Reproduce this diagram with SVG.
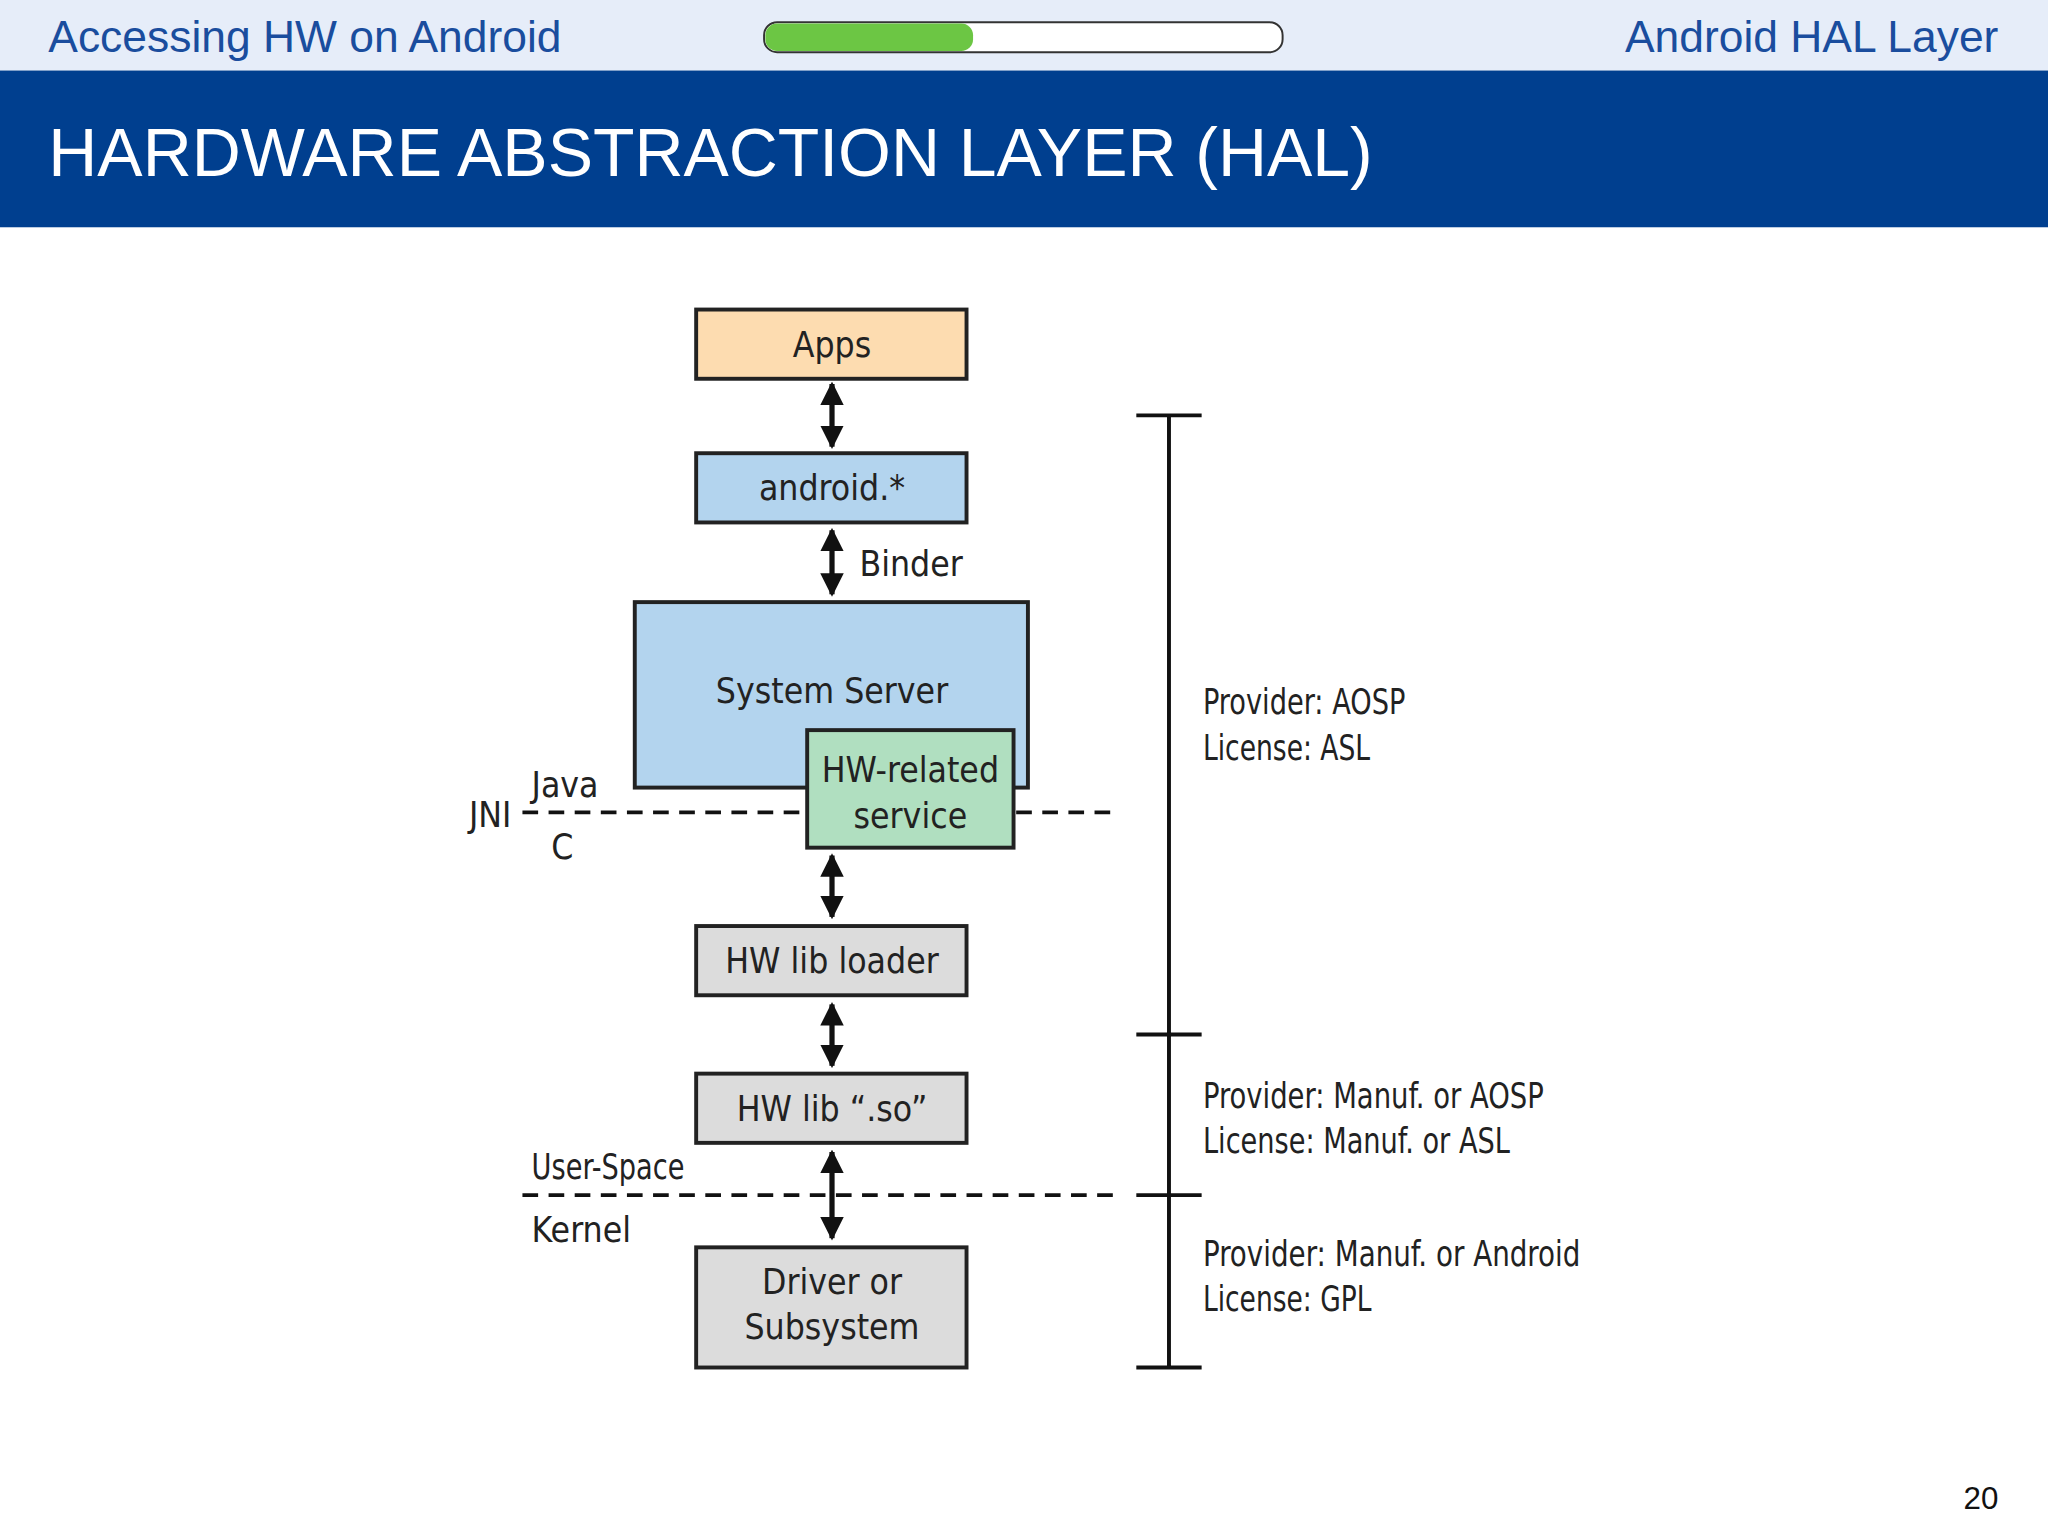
<svg xmlns="http://www.w3.org/2000/svg" width="2048" height="1536" viewBox="0 0 2048 1536">
<defs>
<marker id="ah" viewBox="0 0 10 10" refX="9" refY="5" markerWidth="4.5" markerHeight="4.5" orient="auto-start-reverse"><path d="M0,0 L10,5 L0,10 z" fill="#111"/></marker>
<style>
.box{stroke:#222;stroke-width:3}
.t{font-family:"DejaVu Sans Condensed","Liberation Sans Narrow","Liberation Sans",sans-serif;font-stretch:condensed;font-size:27px;fill:#222}
.c{text-anchor:middle}
.ar{stroke:#111;stroke-width:4;fill:none;marker-start:url(#ah);marker-end:url(#ah)}
.d{stroke:#111;stroke-width:3;stroke-dasharray:12,8;fill:none}
.h{font-family:"Liberation Sans",Arial,sans-serif}
</style>
</defs>
<rect width="2048" height="1536" fill="#fff"/>
<g transform="scale(1.306122)">
<g id="header">
<rect x="0" y="0" width="1568" height="54" fill="#e6edf9"/>
<text class="h" x="37" y="40" font-size="34" fill="#1a4d9e">Accessing HW on Android</text>
<text class="h" x="1530" y="40" font-size="34" fill="#1a4d9e" text-anchor="end">Android HAL Layer</text>
<rect x="585" y="17" width="397" height="23" rx="10" fill="#fff" stroke="#333" stroke-width="1.5"/>
<rect x="586" y="18" width="159" height="21" rx="9" fill="#6cc644"/>
<rect x="0" y="54" width="1568" height="120" fill="#003f8f"/>
<text class="h" x="37" y="135" font-size="52" fill="#fff">HARDWARE ABSTRACTION LAYER (HAL)</text>
<text class="h" x="1530" y="1155" font-size="24" fill="#111" text-anchor="end">20</text>
</g>
<g id="connectors">
<line class="ar" x1="637" y1="294" x2="637" y2="342"/>
<line class="ar" x1="637" y1="406" x2="637" y2="455"/>
<line class="ar" x1="637" y1="655" x2="637" y2="702"/>
<line class="ar" x1="637" y1="769" x2="637" y2="816"/>
<line class="ar" x1="637" y1="882" x2="637" y2="948"/>
<path class="d" d="M400,622 H618 M778,622 H852"/>
<path class="d" d="M400,915 H852"/>
<path d="M895,318 V1047 M870,318 H920 M870,792 H920 M870,915 H920 M870,1047 H920" stroke="#111" stroke-width="3" fill="none"/>
</g>
<g id="apps"><rect class="box" x="533" y="237" width="207" height="53" fill="#fddcb0"/><text class="t c" x="637" y="273">Apps</text></g>
<g id="android"><rect class="box" x="533" y="347" width="207" height="53" fill="#b3d4ee"/><text class="t c" x="637" y="383">android.*</text></g>
<text class="t" x="658" y="441">Binder</text>
<g id="systemserver"><rect class="box" x="486" y="461" width="301" height="142" fill="#b3d4ee"/><text class="t c" x="637" y="538">System Server</text></g>
<g id="hwservice"><rect class="box" x="618" y="559" width="158" height="90" fill="#b0dfc0"/><text class="t c" x="697" y="599">HW-related</text><text class="t c" x="697" y="634">service</text></g>
<text class="t" x="359" y="633">JNI</text>
<text class="t" x="407" y="610">Java</text>
<text class="t" x="422" y="658">C</text>
<g id="loader"><rect class="box" x="533" y="709" width="207" height="53" fill="#dcdcdc"/><text class="t c" x="637" y="745">HW lib loader</text></g>
<g id="hwlib"><rect class="box" x="533" y="822" width="207" height="53" fill="#dcdcdc"/><text class="t c" x="637" y="858">HW lib “.so”</text></g>
<text class="t" x="407" y="903" textLength="117" lengthAdjust="spacingAndGlyphs">User-Space</text>
<text class="t" x="407" y="951">Kernel</text>
<g id="driver"><rect class="box" x="533" y="955" width="207" height="92" fill="#dcdcdc"/><text class="t c" x="637" y="991">Driver or</text><text class="t c" x="637" y="1025">Subsystem</text></g>
<g id="labels">
<text class="t" x="921" y="547" textLength="155" lengthAdjust="spacingAndGlyphs">Provider: AOSP</text>
<text class="t" x="921" y="582" textLength="128" lengthAdjust="spacingAndGlyphs">License: ASL</text>
<text class="t" x="921" y="848" textLength="261" lengthAdjust="spacingAndGlyphs">Provider: Manuf. or AOSP</text>
<text class="t" x="921" y="883" textLength="235" lengthAdjust="spacingAndGlyphs">License: Manuf. or ASL</text>
<text class="t" x="921" y="969" textLength="289" lengthAdjust="spacingAndGlyphs">Provider: Manuf. or Android</text>
<text class="t" x="921" y="1004" textLength="129" lengthAdjust="spacingAndGlyphs">License: GPL</text>
</g>
</g>
</svg>
